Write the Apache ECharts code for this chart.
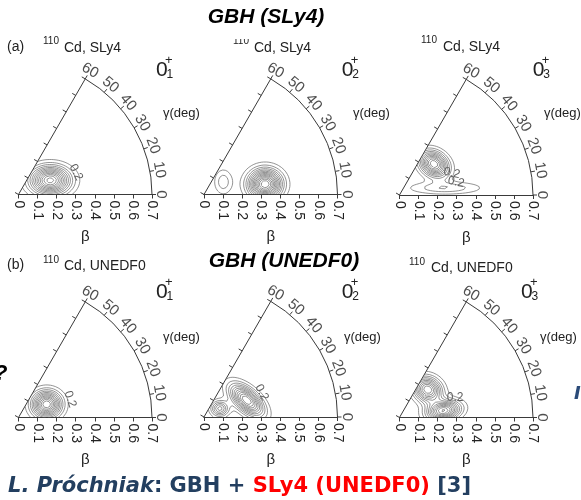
<!DOCTYPE html>
<html>
<head>
<meta charset="utf-8">
<script src="https://cdn.jsdelivr.net/npm/echarts@6/dist/echarts.min.js"></script>
<style>
  html, body { margin: 0; padding: 0; background: #fff; }
  #chart { width: 581px; height: 500px; }
</style>
</head>
<body>
<div id="chart"></div>
<script>
// axes ticks
var betaTicks = [0, 0.1, 0.2, 0.3, 0.4, 0.5, 0.6, 0.7];
var gammaTicks = [0, 10, 20, 30, 40, 50, 60];
var contourLevels = [0.2, 0.4, 0.6, 0.8, 1.0, 1.2, 1.4, 1.6, 1.8, 2.0, 2.2, 2.4, 2.6, 2.8, 3.0];

// collective wave function peaks
// [beta, gamma (deg), peak height, width along tilt, width across, tilt (deg)]
var slyFirst  = [[0.182, 24.0, 2.7, 0.068, 0.048, 0]];
var slySecond = [[0.121, 33.0, 0.55, 0.032, 0.044, 0], [0.325, 9.6, 3.0, 0.056, 0.050, 0]];
var slyThird  = [[0.243, 42.0, 2.4, 0.052, 0.040, -35], [0.242, 8.8, 0.58, 0.125, 0.022, 0]];
var unFirst   = [[0.163, 25.0, 2.6, 0.050, 0.045, 0]];
var unSecond  = [[0.094, 28.0, 1.3, 0.031, 0.027, 0], [0.241, 21.4, 2.4, 0.070, 0.036, -42]];
var unThird   = [[0.208, 44.6, 2.2, 0.050, 0.042, -30], [0.233, 8.7, 2.4, 0.058, 0.033, 10]];

// contour value labels [beta, gamma, text]
var slyFirstLabels = [[0.323, 21, '0.2']];
var slyThirdLabels = [[0.298, 22.7, '0.2'], [0.304, 12.9, '0.2']];
var unFirstLabels  = [[0.287, 19.5, '0.2']];
var unSecondLabels = [[0.329, 23, '0.2']];
var unThirdLabels  = [[0.31, 20, '0.2']];

var panels = [
  { blobs: slyFirst,  labels: slyFirstLabels, rot: -62, c: [18.5, 194.5] },
  { blobs: slySecond, labels: [],             rot: 0,   c: [204, 194.5] },
  { blobs: slyThird,  labels: slyThirdLabels, rot: -12, c: [399.5, 195] },
  { blobs: unFirst,   labels: unFirstLabels,  rot: -70, c: [18.5, 417.5] },
  { blobs: unSecond,  labels: unSecondLabels, rot: -62, c: [204, 417] },
  { blobs: unThird,   labels: unThirdLabels,  rot: 0,   c: [399.5, 417.5] }
];

var R = 133.5;
var AX = '#3a3a3a';
var FONT = 'Liberation Sans, Arial, sans-serif';
var D2R = Math.PI / 180;

function density(blobs, b, g) {
  var x = b * Math.cos(g * D2R), y = b * Math.sin(g * D2R), f = 0;
  blobs.forEach(function (p) {
    var x0 = p[0] * Math.cos(p[1] * D2R), y0 = p[0] * Math.sin(p[1] * D2R);
    var t = p[5] * D2R, dx = x - x0, dy = y - y0;
    var u = dx * Math.cos(t) + dy * Math.sin(t);
    var v = -dx * Math.sin(t) + dy * Math.cos(t);
    f += p[2] * Math.exp(-0.5 * (u * u / (p[3] * p[3]) + v * v / (p[4] * p[4])));
  });
  return f;
}

// marching squares on a (beta, gamma) grid; crossings are keyed by grid edge
// and chained into polylines, separated by '-'
var NB = 140, NG = 90;
function contours(blobs) {
  var grid = [];
  for (var i = 0; i <= NB; i++) {
    grid.push([]);
    for (var j = 0; j <= NG; j++) grid[i].push(density(blobs, 0.7 * i / NB, 60 * j / NG));
  }
  var out = [];
  contourLevels.forEach(function (L) {
    var pts = {}, adj = {};
    function link(a, b) {
      (adj[a] = adj[a] || []).push(b);
      (adj[b] = adj[b] || []).push(a);
    }
    for (var i = 0; i < NB; i++) {
      for (var j = 0; j < NG; j++) {
        var c = [[i, j], [i + 1, j], [i + 1, j + 1], [i, j + 1]];
        var keys = ['r' + i + '_' + j, 'g' + (i + 1) + '_' + j, 'r' + i + '_' + (j + 1), 'g' + i + '_' + j];
        var v = c.map(function (p) { return grid[p[0]][p[1]] - L; });
        var cross = [];
        for (var e = 0; e < 4; e++) {
          var a = v[e], bb = v[(e + 1) % 4];
          if ((a < 0) !== (bb < 0)) {
            var t = a / (a - bb), p0 = c[e], p1 = c[(e + 1) % 4];
            pts[keys[e]] = [0.7 * (p0[0] + t * (p1[0] - p0[0])) / NB, 60 * (p0[1] + t * (p1[1] - p0[1])) / NG];
            cross.push(keys[e]);
          }
        }
        if (cross.length >= 2) link(cross[0], cross[1]);
        if (cross.length === 4) link(cross[2], cross[3]);
      }
    }
    var seen = {};
    function walk(start) {
      var cur = start, prev = null;
      while (cur && !seen[cur]) {
        seen[cur] = true;
        out.push(pts[cur]);
        var nb = adj[cur], next = null;
        for (var n = 0; n < nb.length; n++) if (nb[n] !== prev && !seen[nb[n]]) { next = nb[n]; break; }
        if (!next) {
          for (var m = 0; m < nb.length; m++) if (nb[m] === start && prev !== null && nb[m] !== prev) out.push(pts[start]);
        }
        prev = cur; cur = next;
      }
      out.push('-');
    }
    var k;
    for (k in adj) if (!seen[k] && adj[k].length === 1) walk(k);
    for (k in adj) if (!seen[k]) walk(k);
  });
  return out;
}

var polar = [], angleAxis = [], radiusAxis = [], grid = [], xAxis = [], yAxis = [], series = [];
panels.forEach(function (p, k) {
  var main = 2 * k, edge = 2 * k + 1;
  polar.push({ center: p.c, radius: R });
  angleAxis.push({
    polarIndex: main, type: 'value', min: 0, max: 60, interval: 10,
    startAngle: 0, endAngle: 60, clockwise: false,
    axisLine: { lineStyle: { color: AX, width: 1 } },
    axisTick: { length: 4, lineStyle: { color: AX } },
    axisLabel: { show: false }, splitLine: { show: false }
  });
  radiusAxis.push({
    polarIndex: main, type: 'value', min: 0, max: 0.7, interval: 0.1,
    axisLine: { lineStyle: { color: AX, width: 1 } },
    axisTick: { show: false }, axisLabel: { show: false }, splitLine: { show: false }
  });
  // 60 degree edge
  polar.push({ center: p.c, radius: R });
  angleAxis.push({ polarIndex: edge, type: 'value', min: 0, max: 60, startAngle: 60, endAngle: 0, show: false });
  radiusAxis.push({
    polarIndex: edge, type: 'value', min: 0, max: 0.7, interval: 0.1,
    axisLine: { lineStyle: { color: AX, width: 1 } },
    axisTick: { length: 4, lineStyle: { color: AX } },
    axisLabel: { show: false }, splitLine: { show: false }
  });
  // beta axis ticks and labels below the wedge
  grid.push({ left: p.c[0], top: p.c[1] - 20, width: R, height: 20 });
  xAxis.push({
    gridIndex: k, type: 'value', min: 0, max: 0.7, interval: 0.1, position: 'bottom',
    axisLine: { show: false },
    axisTick: { length: 4, lineStyle: { color: AX } },
    axisLabel: { rotate: -90, fontSize: 14, margin: 6, color: '#222', fontFamily: FONT },
    splitLine: { show: false },
    name: 'β', nameLocation: 'middle', nameGap: 35,
    nameTextStyle: { fontSize: 15, color: '#222', fontFamily: FONT }
  });
  yAxis.push({ gridIndex: k, type: 'value', min: 0, max: 1, show: false });

  series.push({
    type: 'line', coordinateSystem: 'polar', polarIndex: main,
    data: contours(p.blobs), showSymbol: false, symbol: 'none', connectNulls: false,
    lineStyle: { color: '#666', width: 0.7 }, silent: true, animation: false
  });
  series.push({
    type: 'scatter', coordinateSystem: 'polar', polarIndex: main, clip: false,
    symbolSize: 0, silent: true, animation: false,
    data: gammaTicks.map(function (g) { return { value: [0.75, g], label: { rotate: g - 90 } }; }),
    label: { show: true, position: 'inside', fontSize: 15, color: '#222', fontFamily: FONT,
      formatter: function (q) { return String(q.value[1]); } }
  });
  series.push({
    type: 'scatter', coordinateSystem: 'polar', polarIndex: main, clip: false,
    symbolSize: 0, silent: true, animation: false,
    data: p.labels.map(function (l) { return { value: [l[0], l[1]], name: l[2] }; }),
    label: { show: true, position: 'inside', fontSize: 12, color: '#333', fontFamily: FONT,
      rotate: p.rot, formatter: function (q) { return q.name; } }
  });
});

function txt(x, y, s, size, extra) {
  var st = { text: s, fontSize: size, fontFamily: FONT, fill: '#222',
    textAlign: 'left', align: 'left', textVerticalAlign: 'middle', verticalAlign: 'middle' };
  for (var key in extra) st[key] = extra[key];
  return { type: 'text', x: x, y: y, z: 10, style: st };
}

var cdLabels = [
  [43, 41, 64, 48, 'Cd, SLy4'],
  [233, 41, 254, 48, 'Cd, SLy4'],
  [421, 40, 443, 47, 'Cd, SLy4'],
  [43, 260, 64, 266, 'Cd, UNEDF0'],
  [409, 262, 431, 268, 'Cd, UNEDF0']
];
var stateLabels = [
  [156, 70, '1'], [341.7, 70, '2'], [532.7, 70, '3'],
  [156, 292, '1'], [341.7, 292, '2'], [521, 292, '3']
];
var gammaNames = [[163, 113], [353, 113], [544, 113], [163, 337], [344, 337], [540, 337]];

var graphic = [];
graphic.push(txt(7, 47, '(a)', 14));
graphic.push(txt(7, 265, '(b)', 14));
cdLabels.forEach(function (l) {
  graphic.push(txt(l[0], l[1], '110', 10));
  graphic.push(txt(l[2], l[3], l[4], 14));
});
stateLabels.forEach(function (l) {
  graphic.push(txt(l[0], l[1], '0', 21));
  graphic.push(txt(l[0] + 9, l[1] - 10, '+', 13));
  graphic.push(txt(l[0] + 10.5, l[1] + 5, l[2], 12));
});
gammaNames.forEach(function (l) { graphic.push(txt(l[0], l[1], 'γ(deg)', 13)); });

graphic.push({ type: 'text', x: 266, y: 17, z: 20, style: {
  text: 'GBH (SLy4)', fontSize: 21, fontWeight: 'bold', fontStyle: 'italic', fontFamily: FONT, fill: '#000',
  textAlign: 'center', align: 'center', textVerticalAlign: 'middle', verticalAlign: 'middle',
  backgroundColor: '#fff', padding: [8, 20, 15, 20] } });
graphic.push({ type: 'text', x: 284, y: 261, z: 20, style: {
  text: 'GBH (UNEDF0)', fontSize: 21, fontWeight: 'bold', fontStyle: 'italic', fontFamily: FONT, fill: '#000',
  textAlign: 'center', align: 'center', textVerticalAlign: 'middle', verticalAlign: 'middle',
  backgroundColor: '#fff', padding: [5, 20, 6, 20] } });
graphic.push(txt(-6, 374, '?', 22, { fontWeight: 'bold', fontStyle: 'italic', fill: '#000' }));
graphic.push(txt(574, 394, 'I', 18, { fontWeight: 'bold', fontStyle: 'italic', fill: '#2a4a78', fontFamily: 'DejaVu Sans' }));
graphic.push({ type: 'text', x: 8, y: 487, z: 20, style: {
  text: '{a|L. Próchniak}{b|: GBH + }{c|SLy4 (UNEDF0)}{b| [3]}',
  textAlign: 'left', align: 'left', textVerticalAlign: 'middle', verticalAlign: 'middle',
  rich: {
    a: { fontSize: 21, fontWeight: 'bold', fontStyle: 'italic', fontFamily: 'DejaVu Sans', fill: '#233f60', color: '#233f60' },
    b: { fontSize: 21, fontWeight: 'bold', fontFamily: 'DejaVu Sans', fill: '#233f60', color: '#233f60' },
    c: { fontSize: 21, fontWeight: 'bold', fontFamily: 'DejaVu Sans', fill: '#ff0000', color: '#ff0000' }
  } } });

var chart = echarts.init(document.getElementById('chart'));
chart.setOption({
  backgroundColor: '#fff',
  animation: false,
  polar: polar,
  angleAxis: angleAxis,
  radiusAxis: radiusAxis,
  grid: grid,
  xAxis: xAxis,
  yAxis: yAxis,
  series: series,
  graphic: graphic
});
</script>
</body>
</html>
